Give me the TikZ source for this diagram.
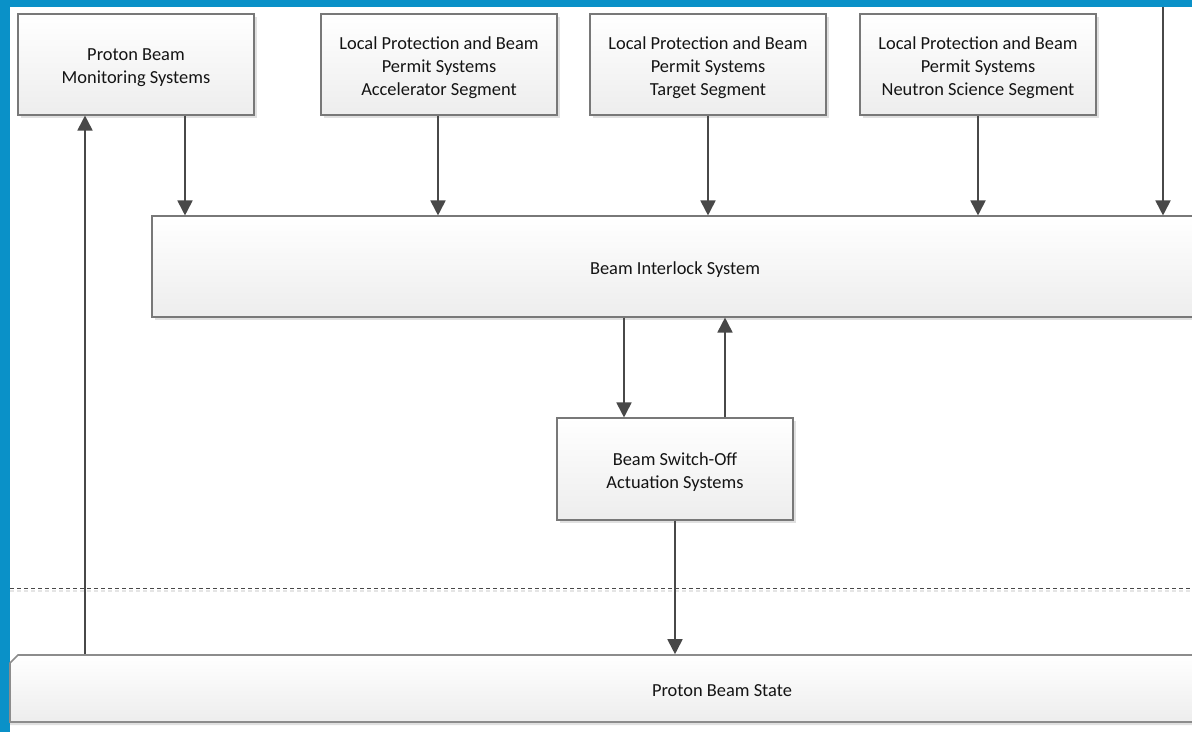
\documentclass[tikz,border=0pt]{standalone}
\usepackage{fontspec}
\setmainfont{Carlito}
\usetikzlibrary{arrows.meta,shapes.misc,shadows,calc}
\definecolor{bordblue}{RGB}{10,145,200}
\definecolor{linegray}{RGB}{72,72,72}
\definecolor{boxgray}{RGB}{120,120,120}
\definecolor{txt}{RGB}{20,20,20}
\newcommand\btxt[1]{\raisebox{-3pt}[\height][\depth]{\begin{tabular}{@{}c@{}}#1\end{tabular}}}
\tikzset{
  boxfont/.style={font=\fontsize{18.4}{23}\selectfont, text=txt},
  sysbox/.style={rectangle, draw=boxgray, line width=1.1pt, top color=white, bottom color=black!7,
    minimum width=236pt, minimum height=101pt, inner sep=0pt,
    boxfont,
    drop shadow={shadow xshift=3pt, shadow yshift=-3pt, fill=black!12, opacity=1}},
  arr/.style={draw=linegray, line width=1.8pt, -{Triangle[length=15pt,width=15pt]}, color=linegray},
}
\begin{document}
\begin{tikzpicture}[x=1pt,y=-1pt]
\useasboundingbox (0,0) rectangle (1192,732);
\begin{scope}
\clip (0,0) rectangle (1192,732);
% blue frame
\fill[bordblue] (0,0) rectangle (10,732);
\fill[bordblue] (0,0) rectangle (1192,7);
% boxes
\node[sysbox] (pbm) at (136,64.5) {\btxt{Proton Beam\\Monitoring Systems}};
\node[sysbox] (acc) at (439,64.5) {\btxt{Local Protection and Beam\\Permit Systems\\Accelerator Segment}};
\node[sysbox] (tgt) at (708,64.5) {\btxt{Local Protection and Beam\\Permit Systems\\Target Segment}};
\node[sysbox] (nss) at (978,64.5) {\btxt{Local Protection and Beam\\Permit Systems\\Neutron Science Segment}};
\node[sysbox, minimum width=1046pt] (bis) at (675,266.5) {\btxt{Beam Interlock System}};
\node[sysbox, minimum height=102pt] (sw) at (675,469) {\btxt{Beam Switch-Off\\Actuation Systems}};
% dashed separator
\coordinate (dl) at (10,588);
\coordinate (dr) at (1192,588);
\draw[black!10, line width=1.5pt, dash pattern=on 4pt off 3pt] ([yshift=-3pt]dl) -- ([yshift=-3pt]dr);
\draw[linegray, line width=0.9pt, dash pattern=on 4pt off 3pt] (dl) -- (dr);
% proton beam state
\node[chamfered rectangle, chamfered rectangle corners=north west, chamfered rectangle xsep=4pt, chamfered rectangle ysep=4pt,
  draw=black!45, line width=1.6pt, top color=white, bottom color=black!7,
  minimum width=1424pt, minimum height=67pt, inner sep=0pt, boxfont,
  drop shadow={shadow xshift=0pt, shadow yshift=-3pt, fill=black!12, opacity=1}] (pbs) at (722,688.5) {\btxt{Proton Beam State}};
% connectors
\draw[arr] ([xshift=49pt]pbm.south) -- ([xshift=49pt]pbm.south |- bis.north);
\draw[arr] ([xshift=-1pt]acc.south) -- ([xshift=-1pt]acc.south |- bis.north);
\draw[arr] (tgt.south) -- (tgt.south |- bis.north);
\draw[arr] (nss.south) -- (nss.south |- bis.north);
\coordinate (in5) at (1163,7);
\draw[arr] (in5) -- (in5 |- bis.north);
\draw[arr] ([xshift=-51pt]sw.north |- bis.south) -- ([xshift=-51pt]sw.north);
\draw[arr] ([xshift=50pt]sw.north) -- ([xshift=50pt]sw.north |- bis.south);
\draw[arr] (sw.south) -- (sw.south |- pbs.north);
\draw[arr] ([xshift=-51pt]pbm.south |- pbs.north) -- ([xshift=-51pt]pbm.south);
\end{scope}
\end{tikzpicture}
\end{document}
